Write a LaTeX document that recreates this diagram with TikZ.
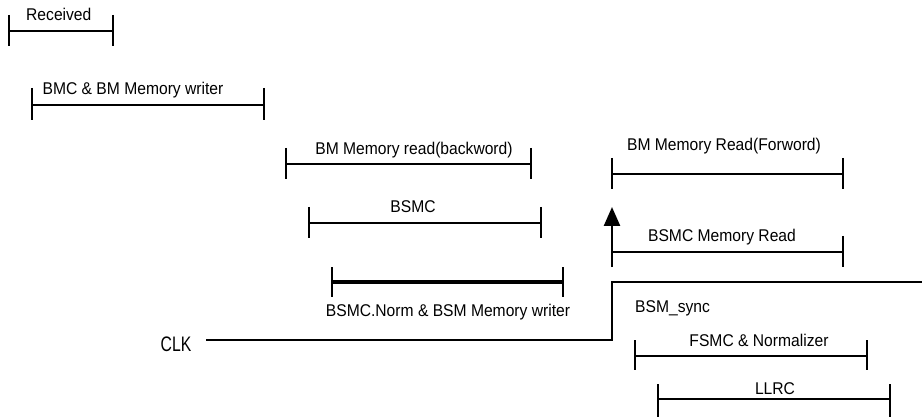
\documentclass[tikz,border=0pt]{standalone}
\usepackage{fontspec}
\setmainfont{Liberation Sans}[FakeStretch=0.92]
\newfontfamily\clkfont{Liberation Sans}[FakeStretch=0.75]
\usetikzlibrary{arrows.meta}
\tikzset{
  bar/.style={line width=2.5pt},
  thickbar/.style={line width=3.5pt},
  tick/.style={line width=2.5pt},
  lbl/.style={anchor=base, inner sep=0pt, font=\fontsize{17}{19}\selectfont},
  lbll/.style={anchor=base west, inner sep=0pt, font=\fontsize{17}{19}\selectfont}
}
% interval: y-line, x-left, x-right, tick-top, tick-bottom
\newcommand{\ivl}[6][bar]{%
  \draw[#1] (#3,#2) -- (#4,#2);
  \draw[tick] (#3,#5) -- (#3,#6);
  \draw[tick] (#4,#5) -- (#4,#6);
}
\begin{document}
\begin{tikzpicture}[x=1pt,y=-1pt]
\useasboundingbox (0,0) rectangle (922,417);
% Received
\ivl{31}{9}{113}{15}{46}
\node[lbll] (received) at (26,21) {Received};
% BMC & BM Memory writer
\ivl{105}{32}{264}{88}{120}
\node[lbl] (bmc) at (133,94.5) {BMC \& BM Memory writer};
% BM Memory read(backword)
\ivl{164}{286}{531}{148}{179}
\node[lbl] (bmread) at (414,155) {BM Memory read(backword)};
% BSMC
\ivl{223}{309}{541}{207}{238}
\node[lbl] (bsmc) at (413,213) {BSMC};
% BSMC.Norm
\ivl[thickbar]{282}{332}{563}{267}{297}
\node[lbl] (bsmcnorm) at (448,316) {BSMC.Norm \& BSM Memory writer};
% BM Memory Read(Forword)
\ivl{174}{612}{843}{158}{189}
\node[lbl] (bmfwd) at (724,151) {BM Memory Read(Forword)};
% BSMC Memory Read
\draw[bar] (612,252) -- (843,252);
\draw[tick] (843,236) -- (843,267);
\coordinate (arrbase) at (612,267);
\coordinate (arrtip) at (612,207);
\draw[tick, -{Triangle[width=16pt,length=19pt]}] (arrbase) -- (arrtip);
\node[lbl] (bsmcmr) at (722,242) {BSMC Memory Read};
% CLK
\node[anchor=base, inner sep=0pt, font=\clkfont\fontsize{21}{24}\selectfont] (clk) at (176,351) {CLK};
\coordinate (c1) at (206,340);
\coordinate (c2) at (612,340);
\coordinate (c3) at (612,282);
\coordinate (c4) at (922,282);
\draw[bar] (c1) -- (c2) -- (c3) -- (c4);
\node[lbll] (bsmsync) at (635,312) {BSM\_sync};
% FSMC & Normalizer
\ivl{356}{635}{867}{340}{370}
\node[lbl] (fsmc) at (759,346) {FSMC \& Normalizer};
% LLRC
\ivl{399}{658}{890}{384}{417}
\node[lbl] (llrc) at (775,394) {LLRC};
\end{tikzpicture}
\end{document}
